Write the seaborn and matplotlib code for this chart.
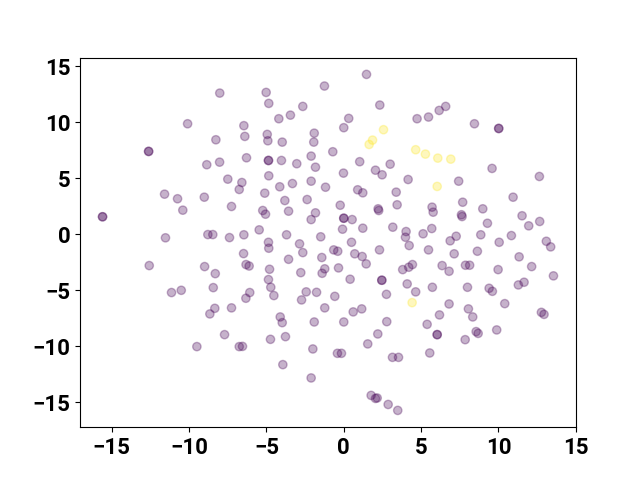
import matplotlib
matplotlib.use("Agg")
import matplotlib.pyplot as plt
import seaborn as sns
import pandas as pd

# t-SNE style embedding: class 0 (purple) points
purple_points = [
    (-8.02, 12.61), (-10.10, 9.87), (-6.46, 9.70), (-6.40, 8.74), (-8.27, 8.44),
    (-12.62, 7.40), (-12.62, 7.40), (-6.29, 6.83), (-8.86, 6.21), (-8.03, 6.44),
    (-7.50, 4.92), (-6.59, 4.62),
    (1.47, 14.28), (-1.25, 13.24), (-5.02, 12.67), (-4.85, 11.69), (-2.65, 11.42),
    (2.33, 11.54), (-4.20, 10.32), (-3.45, 10.64), (0.32, 10.35), (0.00, 9.52),
    (-1.91, 9.03), (-1.94, 8.23), (-4.95, 8.92), (-4.91, 8.35), (-3.98, 8.23),
    (-0.71, 7.37), (-4.87, 6.59), (-4.87, 6.59), (-4.03, 6.59), (-3.04, 6.30),
    (-2.11, 6.98), (-1.83, 5.99), (1.03, 6.48), (3.00, 6.26), (2.05, 5.72),
    (2.48, 5.31), (-0.02, 5.46), (-4.85, 5.22), (4.16, 4.89), (-2.11, 4.74),
    (4.74, 10.32), (5.48, 10.47), (6.17, 11.06), (6.59, 11.42), (8.45, 9.87),
    (10.02, 9.45), (10.02, 9.45), (9.59, 5.88), (12.65, 5.16), (7.43, 4.74),
    (-6.76, 4.00), (-11.59, 3.58), (-10.75, 3.17), (-10.41, 2.15), (-9.02, 3.31),
    (-7.26, 2.48), (-15.60, 1.56), (-15.60, 1.56), (-11.53, -0.32), (-8.79, -0.03),
    (-8.47, -0.03), (-7.39, -0.30), (-6.46, -0.05), (-6.48, -1.73), (-12.58, -2.80),
    (-9.00, -2.89), (-8.31, -3.52), (-8.44, -4.77), (-11.14, -5.21), (-10.51, -5.01),
    (-6.33, -5.72),
    (-4.14, 4.24), (-3.32, 4.53), (-1.18, 4.20), (0.90, 3.97), (1.23, 3.70),
    (3.39, 3.76), (-5.11, 3.67), (-3.81, 3.01), (-2.37, 3.10), (-0.23, 2.59),
    (2.22, 2.27), (2.26, 2.12), (3.45, 2.63), (-5.24, 2.12), (-5.06, 1.79),
    (-3.57, 2.06), (-1.83, 1.91), (-2.11, 1.31), (0.00, 1.43), (0.00, 1.43),
    (0.54, 1.31), (-0.08, 0.45), (1.23, 0.54), (-5.47, 0.39), (-3.70, -0.05),
    (-1.49, -0.23), (3.17, 0.63), (4.03, 0.24), (3.99, -0.27), (4.23, -1.01),
    (-4.87, -0.72), (-4.85, -1.25), (-2.86, -0.86), (-2.65, -1.64), (0.50, -0.72),
    (-0.65, -1.40), (-0.39, -1.52), (-1.42, -2.08), (0.71, -1.75), (1.19, -1.99),
    (1.45, -2.65), (2.31, -1.40), (-6.32, -2.71), (-6.12, -2.84), (-3.57, -2.24),
    (-2.78, -3.43), (-4.80, -3.13), (-4.87, -4.05), (-4.72, -4.74), (-4.52, -5.48),
    (-6.08, -5.21), (-1.23, -3.09), (-1.40, -3.49), (-0.34, -3.01), (0.41, -4.02),
    (2.46, -4.11), (2.46, -4.11), (-2.43, -5.15), (-1.76, -5.19), (-2.73, -5.87),
    (-0.58, -5.55), (2.76, -5.37), (4.10, -4.44), (3.81, -3.16), (4.20, -2.95),
    (4.44, -2.71),
    (10.95, 3.31), (7.69, 2.86), (5.71, 2.42), (5.78, 1.97), (7.61, 1.74),
    (7.65, 1.58), (8.99, 2.27), (9.29, 0.98), (11.53, 1.65), (11.96, 0.75),
    (12.67, 1.14), (5.69, 0.51), (5.13, 0.04), (7.27, -0.18), (6.88, -0.59),
    (8.86, -0.05), (10.05, -0.72), (10.84, -0.12), (13.10, -0.63), (13.38, -1.13),
    (5.48, -1.40), (7.14, -1.75), (8.64, -1.52), (11.34, -2.02), (6.36, -2.80),
    (6.81, -3.31), (7.87, -2.77), (8.14, -2.77), (9.98, -3.16), (12.15, -2.89),
    (13.56, -3.72), (4.65, -5.15), (5.73, -4.74), (8.00, -4.74), (9.40, -4.83),
    (9.61, -5.10), (11.29, -4.53), (11.66, -4.29), (10.41, -6.20), (6.81, -6.23),
    (-8.34, -6.62), (-8.66, -7.12), (-7.26, -6.58), (-7.71, -8.97), (-9.50, -10.04),
    (-6.76, -10.04), (-6.55, -10.02),
    (-1.23, -6.58), (0.61, -6.94), (1.16, -6.67), (-4.11, -7.39), (-3.98, -7.90),
    (-1.91, -7.84), (0.00, -7.84), (2.78, -7.81), (2.20, -8.91), (1.55, -9.80),
    (-4.74, -9.39), (-3.77, -9.15), (-2.00, -10.25), (-0.41, -10.64), (-0.15, -10.64),
    (3.15, -11.00), (3.54, -11.00), (-3.94, -11.65), (-2.11, -12.84), (1.77, -14.40),
    (2.05, -14.67), (2.16, -14.63), (2.87, -15.21), (3.49, -15.74),
    (8.06, -6.67), (8.34, -7.39), (6.19, -7.21), (5.39, -8.05), (6.04, -8.97),
    (6.04, -8.97), (5.56, -10.61), (7.85, -9.42), (8.56, -8.70), (8.69, -8.86),
    (9.89, -8.55), (12.78, -6.98), (12.95, -7.16),
]

# class 1 (yellow) points
yellow_points = [
    (2.57, 9.34), (1.86, 8.41), (1.64, 8.02), (4.65, 7.55), (5.28, 7.16),
    (6.08, 6.80), (6.92, 6.71), (6.04, 4.27), (4.42, -6.11),
]

class_labels = [0, 1]
class_colors = {0: "#440154", 1: "#fde725"}

rows = [(x, y, 0) for x, y in purple_points] + [(x, y, 1) for x, y in yellow_points]
df = pd.DataFrame(rows, columns=["x", "y", "label"])

plt.rcParams["font.family"] = ["Roboto", "DejaVu Sans"]
plt.rcParams["font.weight"] = "bold"

fig, ax = plt.subplots(figsize=(6.4, 4.8), dpi=100)
sns.scatterplot(data=df, x="x", y="y", hue="label", hue_order=class_labels,
                palette=class_colors, alpha=0.3, s=36, edgecolor="face",
                linewidth=1.0, legend=False, ax=ax)
ax.set_xlabel("")
ax.set_ylabel("")
ax.tick_params(axis="both", labelsize=16)
for lab in ax.get_xticklabels() + ax.get_yticklabels():
    lab.set_fontweight("bold")
fig.savefig("out.png", dpi=100)
